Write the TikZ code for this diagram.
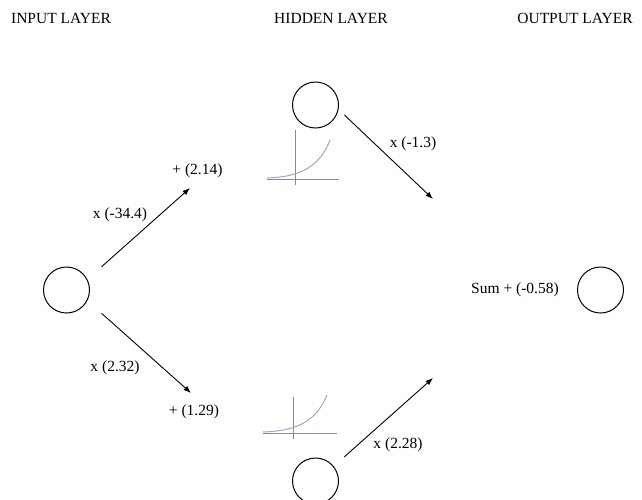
\documentclass[tikz,border=0pt]{standalone}
\usepackage{fontspec}
\setmainfont{Liberation Serif}
\usetikzlibrary{arrows.meta}
\definecolor{axisgray}{HTML}{8A8A8A}
\definecolor{curveblue}{HTML}{98AACB}
\begin{document}
\begin{tikzpicture}[x=1pt, y=-1pt,
    neuron/.style={circle, draw, line width=1pt, minimum size=46pt, inner sep=0pt},
    lbl/.style={font=\fontsize{15.5}{17}\selectfont, inner sep=0pt},
    weight/.style={line width=0.9pt, -{Latex[length=7.5pt, width=5.5pt]}}]
  \useasboundingbox (0,0) rectangle (642,499);
  % Layer titles.
  \node[lbl] (tin)  at (61,18)  {INPUT LAYER};
  \node[lbl] (thid) at (331,18) {HIDDEN LAYER};
  \node[lbl] (tout) at (575,18) {OUTPUT LAYER};
  % Neurons.
  \node[neuron] (in)  at (66.5,290)  {};
  \node[neuron] (h1)  at (315.5,105) {};
  \node[neuron] (h2)  at (315.5,481) {};
  \node[neuron] (out) at (600.5,290) {};
  % Free ends of the weighted connections.
  \coordinate (e1) at (190,188);
  \coordinate (e2) at (191,393);
  \coordinate (e3) at (433,199);
  \coordinate (e4) at (433,378);
  \draw[weight, shorten <=19pt] (in.27)  -- (e1);
  \draw[weight, shorten <=19pt] (in.-27) -- (e2);
  \draw[weight, shorten <=8pt]  (h1.-11) -- (e3);
  \draw[weight, shorten <=14pt] (h2.39)  -- (e4);
  % Weights and biases.
  \node[lbl] (w1) at (120,215)   {x (-34.4)};
  \node[lbl] (b1) at (197.5,171) {+ (2.14)};
  \node[lbl] (w2) at (115,368)   {x (2.32)};
  \node[lbl] (b2) at (194,412)   {+ (1.29)};
  \node[lbl] (w3) at (413,144)   {x (-1.3)};
  \node[lbl] (w4) at (398,445)   {x (2.28)};
  \node[lbl] (bo) at (515,290)   {Sum + (-0.58)};
  % Activation curves.
  \draw[axisgray, line width=0.8pt] (295,130) -- (295,185) (267,179) -- (339,179);
  \draw[curveblue, line width=1pt] (267,178) .. controls (292,177) and (318,172) .. (330,140);
  \draw[axisgray, line width=0.8pt] (293,397) -- (293,439) (263,433) -- (337,433);
  \draw[curveblue, line width=1pt] (263,432) .. controls (288,431) and (314,427) .. (327,395);
\end{tikzpicture}
\end{document}
